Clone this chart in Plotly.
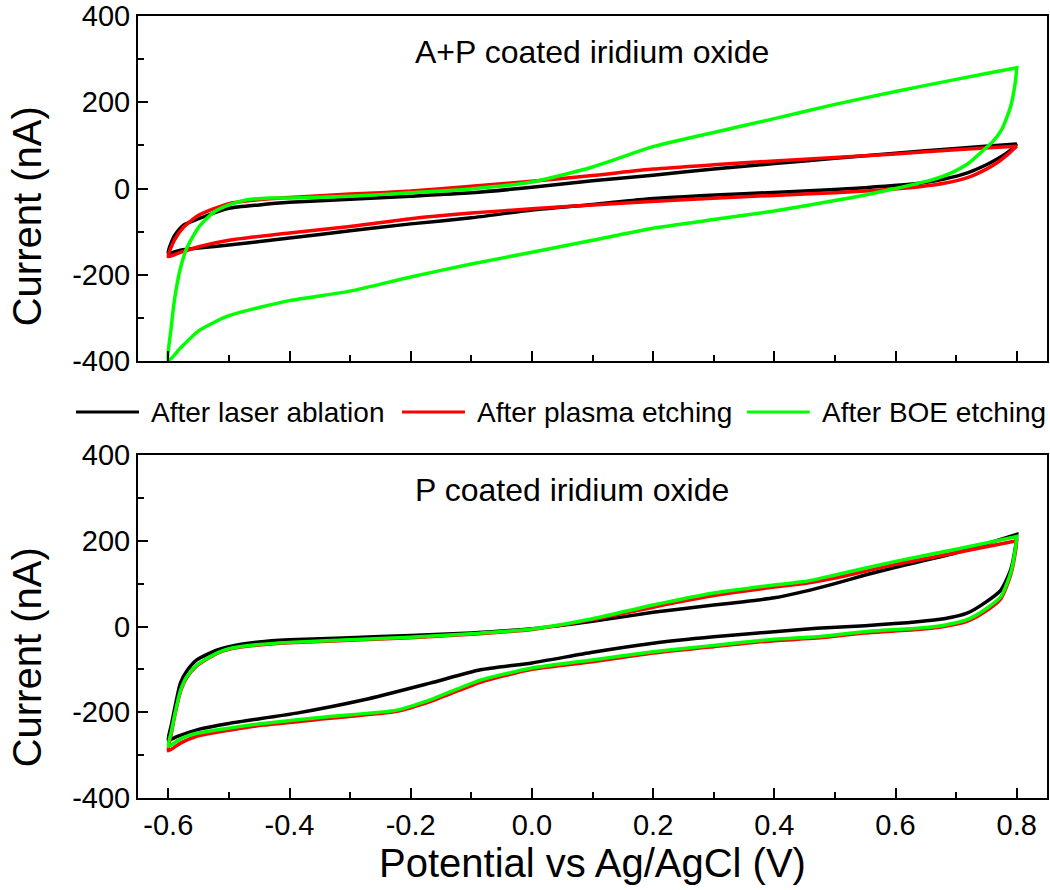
import plotly.graph_objects as go

# ---------------- data ----------------
series_names = ["After laser ablation", "After plasma etching", "After BOE etching"]
series_colors = ["#000000", "#FF0000", "#00FF00"]

# Top panel: A+P coated iridium oxide  (potential V, current nA)
top_black_fwd_v = [-0.6, -0.59, -0.575, -0.55, -0.5, -0.45, -0.4, -0.3, -0.2, -0.1, 0.0, 0.1, 0.2, 0.3, 0.4, 0.5, 0.6, 0.7, 0.8]
top_black_fwd_i = [-150, -110, -85, -70, -46, -38, -32, -25, -18, -10, 3, 18, 31, 45, 58, 70, 82, 93, 103]
top_black_rev_v = [0.8, 0.79, 0.77, 0.75, 0.72, 0.68, 0.64, 0.55, 0.45, 0.35, 0.2, 0.1, 0.0, -0.1, -0.2, -0.3, -0.4, -0.5, -0.55, -0.58, -0.6]
top_black_rev_i = [103, 89, 70, 55, 37, 22, 12, 2, -6, -12, -23, -37, -50, -68, -82, -98, -115, -131, -138, -143, -150]

top_red_fwd_v = [-0.6, -0.59, -0.575, -0.55, -0.5, -0.45, -0.4, -0.3, -0.2, -0.1, 0.0, 0.1, 0.2, 0.3, 0.4, 0.5, 0.6, 0.7, 0.8]
top_red_fwd_i = [-158, -120, -90, -62, -35, -26, -21, -13, -6, 5, 17, 30, 45, 55, 64, 72, 80, 90, 98]
top_red_rev_v = [0.8, 0.79, 0.77, 0.75, 0.72, 0.68, 0.64, 0.55, 0.45, 0.35, 0.25, 0.1, 0.0, -0.1, -0.2, -0.3, -0.4, -0.5, -0.55, -0.58, -0.6]
top_red_rev_i = [98, 85, 62, 45, 26, 12, 4, -6, -13, -19, -26, -38, -47, -57, -70, -88, -103, -120, -135, -148, -158]

top_green_fwd_v = [-0.6, -0.595, -0.59, -0.58, -0.57, -0.55, -0.525, -0.5, -0.47, -0.43, -0.4, -0.3, -0.2, -0.1, 0.0, 0.1, 0.2, 0.3, 0.4, 0.5, 0.6, 0.7, 0.8]
top_green_fwd_i = [-400, -320, -260, -185, -140, -90, -55, -38, -26, -22, -22, -18, -10, -1, 15, 50, 97, 130, 162, 195, 225, 253, 280]
top_green_rev_v = [0.8, 0.798, 0.79, 0.775, 0.76, 0.745, 0.72, 0.69, 0.66, 0.6, 0.55, 0.5, 0.4, 0.3, 0.2, 0.1, 0.0, -0.1, -0.2, -0.3, -0.4, -0.5, -0.55, -0.58, -0.6]
top_green_rev_i = [280, 250, 190, 136, 108, 89, 58, 35, 20, 0, -15, -28, -52, -72, -92, -120, -148, -175, -205, -238, -260, -295, -330, -370, -400]

# Bottom panel: P coated iridium oxide
bot_black_fwd_v = [-0.6, -0.595, -0.59, -0.58, -0.57, -0.553, -0.52, -0.5, -0.45, -0.4, -0.3, -0.2, -0.1, 0.0, 0.1, 0.2, 0.3, 0.35, 0.4, 0.45, 0.5, 0.55, 0.6, 0.7, 0.8]
bot_black_fwd_i = [-265, -230, -195, -132, -105, -78, -55, -47, -36, -31, -26, -21, -15, -5, 12, 33, 50, 58, 67, 82, 100, 120, 138, 172, 215]
bot_black_rev_v = [0.8, 0.798, 0.79, 0.774, 0.746, 0.718, 0.68, 0.636, 0.55, 0.47, 0.4, 0.3, 0.2, 0.1, 0.0, -0.085, -0.168, -0.277, -0.388, -0.5, -0.55, -0.586, -0.6]
bot_black_rev_i = [215, 186, 132, 85, 54, 31, 18, 11, 2, -4, -12, -24, -39, -60, -85, -101, -132, -171, -202, -226, -240, -257, -265]

bot_red_fwd_v = [-0.6, -0.595, -0.59, -0.58, -0.57, -0.553, -0.52, -0.5, -0.45, -0.4, -0.3, -0.2, -0.1, 0.0, 0.1, 0.2, 0.3, 0.4, 0.45, 0.5, 0.6, 0.7, 0.8]
bot_red_fwd_i = [-290, -250, -212, -152, -120, -92, -63, -53, -43, -38, -32, -26, -18, -7, 16, 45, 72, 92, 100, 113, 145, 172, 200]
bot_red_rev_v = [0.8, 0.798, 0.79, 0.774, 0.746, 0.718, 0.68, 0.636, 0.55, 0.47, 0.4, 0.3, 0.2, 0.1, 0.0, -0.085, -0.168, -0.223, -0.333, -0.443, -0.5, -0.553, -0.58, -0.6]
bot_red_rev_i = [200, 175, 120, 65, 33, 12, 0, -7, -15, -27, -33, -47, -62, -82, -100, -130, -175, -198, -214, -230, -242, -256, -272, -290]

bot_green_fwd_v = [-0.6, -0.595, -0.59, -0.58, -0.57, -0.553, -0.52, -0.5, -0.45, -0.4, -0.3, -0.2, -0.1, 0.0, 0.1, 0.2, 0.3, 0.4, 0.45, 0.5, 0.6, 0.7, 0.8]
bot_green_fwd_i = [-280, -245, -210, -150, -118, -90, -62, -52, -42, -37, -31, -25, -17, -6, 18, 50, 78, 97, 105, 120, 152, 180, 210]
bot_green_rev_v = [0.8, 0.798, 0.79, 0.774, 0.746, 0.718, 0.68, 0.636, 0.55, 0.47, 0.4, 0.3, 0.2, 0.1, 0.0, -0.085, -0.168, -0.223, -0.333, -0.443, -0.5, -0.553, -0.58, -0.6]
bot_green_rev_i = [210, 183, 125, 70, 38, 16, 3, -4, -12, -24, -30, -44, -59, -78, -97, -125, -171, -195, -210, -226, -237, -249, -262, -280]

panel_titles = ["A+P coated iridium oxide", "P coated iridium oxide"]
x_tick_vals = [-0.6, -0.4, -0.2, 0.0, 0.2, 0.4, 0.6, 0.8]
x_tick_text = ["-0.6", "-0.4", "-0.2", "0.0", "0.2", "0.4", "0.6", "0.8"]
y_tick_vals = [-400, -200, 0, 200, 400]
y_tick_text = ["-400", "-200", "0", "200", "400"]
x_title = "Potential vs Ag/AgCl (V)"
y_title = "Current (nA)"

# ---------------- figure ----------------
FONT = "Arial, Liberation Sans, sans-serif"
fig = go.Figure()

top_sets = [
    (top_black_fwd_v + top_black_rev_v, top_black_fwd_i + top_black_rev_i),
    (top_red_fwd_v + top_red_rev_v, top_red_fwd_i + top_red_rev_i),
    (top_green_fwd_v + top_green_rev_v, top_green_fwd_i + top_green_rev_i),
]
bot_sets = [
    (bot_black_fwd_v + bot_black_rev_v, bot_black_fwd_i + bot_black_rev_i),
    (bot_red_fwd_v + bot_red_rev_v, bot_red_fwd_i + bot_red_rev_i),
    (bot_green_fwd_v + bot_green_rev_v, bot_green_fwd_i + bot_green_rev_i),
]

for k, (xv, yv) in enumerate(top_sets):
    fig.add_trace(go.Scatter(x=xv, y=yv, mode="lines", name=series_names[k],
                             line=dict(color=series_colors[k], width=3.5, shape="spline", smoothing=0.6),
                             xaxis="x", yaxis="y", showlegend=False))
for k, (xv, yv) in enumerate(bot_sets):
    fig.add_trace(go.Scatter(x=xv, y=yv, mode="lines", name=series_names[k],
                             line=dict(color=series_colors[k], width=3.5, shape="spline", smoothing=0.6),
                             xaxis="x2", yaxis="y2", showlegend=False))

axis_common = dict(showline=True, linewidth=2, linecolor="black", mirror=True,
                   showgrid=False, zeroline=False, ticks="inside", automargin=False,
                   tickwidth=2, tickcolor="black", ticklen=10,
                   tickfont=dict(family=FONT, size=29, color="black"))
xa = dict(axis_common, range=[-0.65, 0.85], tickmode="array",
          tickvals=x_tick_vals, ticktext=x_tick_text,
          minor=dict(ticks="inside", ticklen=6, tickwidth=2, tickcolor="black", dtick=0.1, tick0=0))
ya = dict(axis_common, range=[-400, 400], tickmode="array",
          tickvals=y_tick_vals, ticktext=y_tick_text,
          minor=dict(ticks="inside", ticklen=6, tickwidth=2, tickcolor="black", dtick=100, tick0=0))

fig.update_layout(
    width=1050, height=890,
    margin=dict(l=138, r=3, t=16, b=92, autoexpand=False),
    paper_bgcolor="white", plot_bgcolor="white",
    font=dict(family=FONT, color="black"),
    xaxis=dict(xa, anchor="y", domain=[0, 1], showticklabels=False),
    yaxis=dict(ya, anchor="x", domain=[0.5588, 1.0]),
    xaxis2=dict(xa, anchor="y2", domain=[0, 1],
                title=dict(text=x_title, font=dict(family=FONT, size=40), standoff=0)),
    yaxis2=dict(ya, anchor="x2", domain=[0.0, 0.4386]),
    showlegend=False,
)

annotations = [
    dict(text=panel_titles[0], xref="paper", yref="y", x=0.3025, y=316,
         xanchor="left", yanchor="middle", showarrow=False,
         font=dict(family=FONT, size=32, color="black")),
    dict(text=panel_titles[1], xref="paper", yref="y2", x=0.3025, y=318,
         xanchor="left", yanchor="middle", showarrow=False,
         font=dict(family=FONT, size=32, color="black")),
    dict(text=y_title, xref="paper", yref="paper", x=-0.122, y=0.744,
         xanchor="center", yanchor="middle", textangle=-90, showarrow=False,
         font=dict(family=FONT, size=40, color="black")),
    dict(text=y_title, xref="paper", yref="paper", x=-0.122, y=0.180,
         xanchor="center", yanchor="middle", textangle=-90, showarrow=False,
         font=dict(family=FONT, size=40, color="black")),
]

# manual legend (long line samples as in the reference)
legend_y = 0.4936
legend_line_x = [(-0.0682, 0.0011), (0.2904, 0.3597), (0.670, 0.739)]
shapes = []
for k in range(3):
    x0, x1 = legend_line_x[k]
    shapes.append(dict(type="line", xref="paper", yref="paper", x0=x0, x1=x1,
                       y0=legend_y, y1=legend_y,
                       line=dict(color=series_colors[k], width=3)))
    annotations.append(dict(text=series_names[k], xref="paper", yref="paper",
                            x=x1 + 0.011, y=legend_y, xanchor="left", yanchor="middle",
                            showarrow=False,
                            font=dict(family=FONT, size=28, color="black")))

fig.update_layout(annotations=annotations, shapes=shapes)
# remove the browser's default 8px page margin so the figure sits at the page origin
fig.write_html("out.html", config={"displayModeBar": False},
               post_script="document.body.style.margin='0px';")
